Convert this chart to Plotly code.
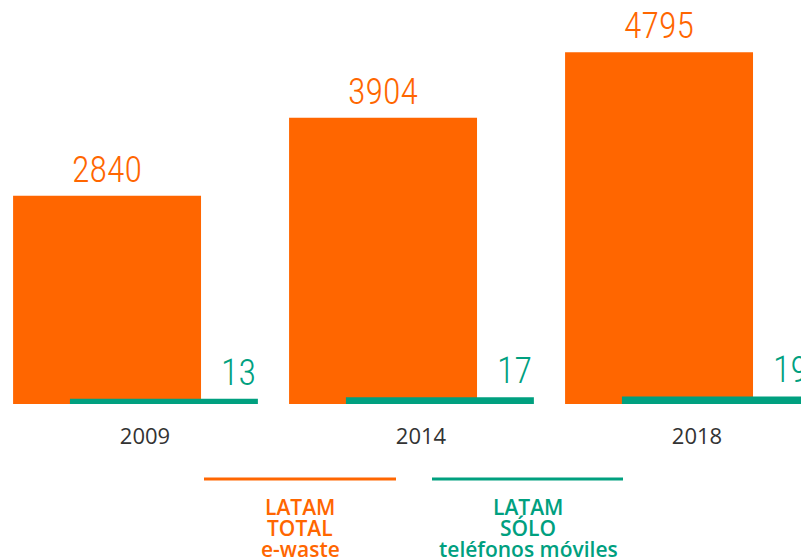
import plotly.graph_objects as go

# ---- data ----
years = ["2009", "2014", "2018"]
total_ewaste = [2840, 3904, 4795]
mobile_only = [13, 17, 19]
legend_total = ["LATAM", "TOTAL", "e-waste"]
legend_mobile = ["LATAM", "SÓLO", "teléfonos móviles"]

ORANGE = "#FF6600"
TEAL = "#00A07F"
W, H = 809, 558
PAD = 8               # page offset of the plot div
MT, MB = 0, 162
PLOT_H = H - MT - MB

x_idx = list(range(len(years)))
bar_w = 0.681
off_total = -0.478
off_mobile = -0.272

fig = go.Figure()
fig.add_trace(go.Bar(x=x_idx, y=total_ewaste, width=bar_w, offset=off_total,
                     marker=dict(color=ORANGE, line=dict(width=0)), yaxis="y",
                     hoverinfo="skip"))
fig.add_trace(go.Bar(x=x_idx, y=mobile_only, width=bar_w, offset=off_mobile,
                     marker=dict(color=TEAL, line=dict(width=0)), yaxis="y2",
                     hoverinfo="skip"))

num_font = dict(family="Roboto Condensed, DejaVu Sans Condensed, sans-serif", size=36, weight=300)

for i, v in zip(x_idx, total_ewaste):
    fig.add_annotation(x=i + off_total + bar_w / 2, y=v, xref="x", yref="y",
                       text=str(v), showarrow=False, yanchor="bottom", xanchor="center",
                       yshift=3, font=dict(num_font, color=ORANGE))
for i, v in zip(x_idx, mobile_only):
    fig.add_annotation(x=i + off_mobile + bar_w, y=v, xref="x", yref="y2",
                       text=str(v), showarrow=False, yanchor="bottom", xanchor="right",
                       yshift=3, font=dict(num_font, color=TEAL))

def px_x(px):
    return (px - PAD) / W

def px_y(py):
    return (H - MB - (py - PAD)) / PLOT_H

legend_font = dict(family="Open Sans, sans-serif", size=21, weight=600)
for (x0, x1, xc, color, lines) in [
    (204, 396, 300, ORANGE, legend_total),
    (432, 623, 528, TEAL, legend_mobile),
]:
    fig.add_shape(type="line", xref="paper", yref="paper",
                  x0=px_x(x0), x1=px_x(x1), y0=px_y(479), y1=px_y(479),
                  line=dict(color=color, width=3))
    for k, t in enumerate(lines):
        fig.add_annotation(x=px_x(xc), y=px_y(507 + 21 * k), xref="paper", yref="paper",
                           text=t, showarrow=False, xanchor="center", yanchor="middle",
                           font=dict(legend_font, color=color))

fig.update_layout(
    width=W, height=H,
    margin=dict(l=0, r=0, t=MT, b=MB),
    paper_bgcolor="white", plot_bgcolor="white",
    barmode="overlay", showlegend=False,
    xaxis=dict(range=[-0.4964, 2.4348], tickvals=x_idx, ticktext=years,
               showgrid=False, zeroline=False, showline=False,
               ticks="outside", ticklen=13, tickcolor="rgba(0,0,0,0)",
               tickfont=dict(family="Open Sans, sans-serif", size=22, color="#333333")),
    yaxis=dict(range=[0, 5400], visible=False, showgrid=False, zeroline=False),
    yaxis2=dict(range=[0, 990], overlaying="y", visible=False, showgrid=False, zeroline=False),
)

fig.write_html("out.html")
